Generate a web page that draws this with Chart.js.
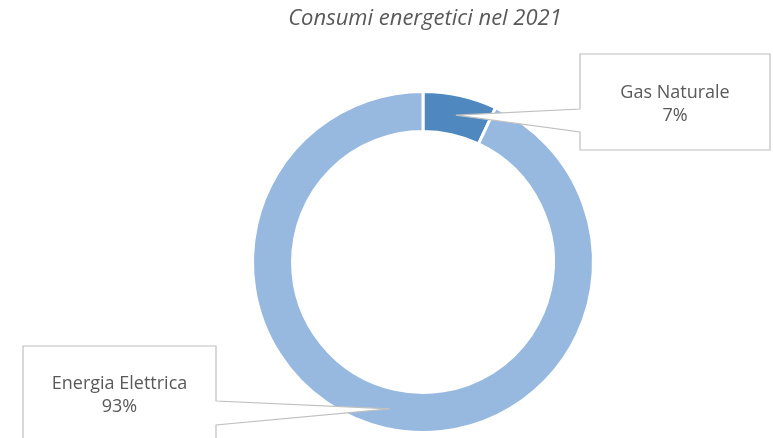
<!DOCTYPE html>
<html>
<head>
<meta charset="utf-8">
<script src="https://cdn.jsdelivr.net/npm/chart.js@4"></script>
<style>
  html, body { margin: 0; padding: 0; background: #fff; }
  #wrap { position: relative; width: 773px; height: 438px; }
</style>
</head>
<body>
<div id="wrap"><canvas id="chart"></canvas></div>
<script>
// data
const titleText = 'Consumi energetici nel 2021';
const categories = ['Gas Naturale', 'Energia Elettrica'];
const shares = [7, 93];
const sliceColors = ['#4F88BF', '#97B9E0'];

// callout boxes (layout only): x, y, w, h, wedge top/bottom on the side facing the slice
const callouts = [
  { x: 580, y: 54, w: 190, h: 96, side: 'left', w1: 109, w2: 132 },
  { x: 23, y: 346, w: 193, h: 100, side: 'right', w1: 401, w2: 425 }
];

const FONT = '"Open Sans", "Liberation Sans", sans-serif';

// title + wedge callouts
const decor = {
  id: 'decor',
  afterDraw(chart) {
    const ctx = chart.ctx;
    ctx.save();
    ctx.fillStyle = '#595959';
    ctx.font = 'italic 22px ' + FONT;
    ctx.textAlign = 'center';
    ctx.textBaseline = 'middle';
    ctx.fillText(titleText, 425, 19);

    const arcs = chart.getDatasetMeta(0).data;
    arcs.forEach((arc, i) => {
      const c = callouts[i];
      const tip = arc.getCenterPoint();
      const r = c.x + c.w, b = c.y + c.h;
      ctx.beginPath();
      if (c.side === 'left') {
        ctx.moveTo(c.x, c.y);
        ctx.lineTo(r, c.y);
        ctx.lineTo(r, b);
        ctx.lineTo(c.x, b);
        ctx.lineTo(c.x, c.w2);
        ctx.lineTo(tip.x, tip.y);
        ctx.lineTo(c.x, c.w1);
        ctx.closePath();
      } else {
        ctx.moveTo(c.x, c.y);
        ctx.lineTo(r, c.y);
        ctx.lineTo(r, c.w1);
        ctx.lineTo(tip.x, tip.y);
        ctx.lineTo(r, c.w2);
        ctx.lineTo(r, b);
        ctx.lineTo(c.x, b);
        ctx.closePath();
      }
      ctx.fillStyle = '#ffffff';
      ctx.fill();
      ctx.strokeStyle = '#BFBFBF';
      ctx.lineWidth = 1.2;
      ctx.stroke();

      const total = shares.reduce((a, v) => a + v, 0);
      const pct = Math.round(shares[i] / total * 100) + '%';
      const cx = c.x + c.w / 2;
      const cy = i === 0 ? 104 : 395;
      ctx.fillStyle = '#595959';
      ctx.font = '18px ' + FONT;
      ctx.fillText(categories[i], cx, cy - 11);
      ctx.fillText(pct, cx, cy + 12);
    });
    ctx.restore();
  }
};

new Chart(document.getElementById('chart').getContext('2d'), {
  type: 'doughnut',
  data: {
    labels: categories,
    datasets: [{
      data: shares,
      backgroundColor: sliceColors,
      hoverBackgroundColor: sliceColors,
      borderColor: '#ffffff',
      borderWidth: 3
    }]
  },
  options: {
    responsive: true,
    maintainAspectRatio: false,
    animation: false,
    cutout: '76.5%',
    layout: { padding: { left: 251, right: 178, top: 90, bottom: 4 } },
    plugins: {
      legend: { display: false },
      tooltip: { enabled: false },
      title: { display: false }
    }
  },
  plugins: [decor]
});
</script>
</body>
</html>
